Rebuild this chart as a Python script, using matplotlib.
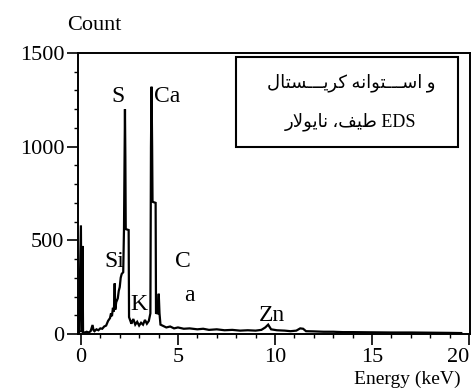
import numpy as np
import matplotlib.pyplot as plt
from matplotlib.ticker import MultipleLocator
from matplotlib.patches import Rectangle

# EDS spectrum (energy in keV, counts)
energy = [-0.10, 0.00, 0.03, 0.06, 0.08, 0.11, 0.20, 0.30, 0.40, 0.50,
          0.60, 0.65, 0.70, 0.80, 0.90, 1.00, 1.10, 1.20, 1.30, 1.40,
          1.50, 1.55, 1.60, 1.65, 1.70, 1.74, 1.77, 1.82, 1.90, 1.95,
          2.00, 2.05, 2.10, 2.18, 2.22, 2.25, 2.27, 2.29, 2.31, 2.46,
          2.48, 2.55, 2.60, 2.70, 2.80, 2.90, 3.00, 3.10, 3.20, 3.30,
          3.40, 3.50, 3.58, 3.61, 3.64, 3.67, 3.69, 3.71, 3.85, 3.87,
          3.95, 4.01, 4.05, 4.10, 4.20, 4.40, 4.60, 4.80, 5.00, 5.30,
          5.60, 6.00, 6.30, 6.60, 7.00, 7.40, 7.80, 8.20, 8.60, 9.00,
          9.30, 9.50, 9.65, 9.80, 10.10, 10.50, 10.80, 11.10, 11.30, 11.45,
          11.60, 12.00, 12.50, 13.00, 13.50, 14.00, 15.00, 16.00, 17.00, 18.00,
          19.00, 19.60]
counts = [5, 580, 10, 20, 470, 10, 8, 12, 8, 15,
          48, 20, 15, 25, 20, 30, 28, 40, 45, 70,
          85, 110, 95, 140, 120, 270, 130, 170, 190, 230,
          250, 300, 320, 330, 560, 950, 1200, 950, 560, 555,
          90, 70, 55, 80, 50, 65, 45, 60, 50, 75,
          55, 70, 110, 1000, 1320, 1000, 710, 705, 700, 112,
          110, 215, 110, 50, 45, 35, 40, 30, 35, 28,
          30, 25, 28, 22, 25, 20, 22, 18, 20, 18,
          22, 35, 50, 25, 20, 18, 15, 18, 30, 28,
          15, 14, 12, 12, 10, 10, 9, 8, 8, 7,
          6, 5]

x_ticks = [0, 5, 10, 15, 20]
x_labels = ["0", "5", "10", "15", "20"]

peak_names = ["S", "Ca", "Si", "C", "a", "K", "Zn"]
peak_x = [1.90, 4.45, 1.70, 5.24, 5.60, 2.98, 9.85]
peak_y = [1266, 1266, 385, 385, 208, 155, 101]

# box text, already shaped (presentation forms) and in visual order,
# since matplotlib does no right-to-left layout itself
box_lines = [
    "\uFEDD\uFE8E\uFE98\uFEB4\u0640\u0640\u0640\uFBFE\uFEAE\uFB90 "
    "\uFEEA\uFEE7\uFE8D\uFEEE\uFE98\u0640\u0640\u0640\uFEB3\uFE8D \uFEED",
    "\uFEAD\uFEFB\uFEEE\uFBFE\uFE8E\uFEE7 \u060C\uFED2\uFBFF\uFEC3 EDS",
]

fam = ['Liberation Serif', 'DejaVu Sans']
plt.rcParams['font.family'] = fam

fig = plt.figure(figsize=(4.73, 3.89), dpi=100)
ax = fig.add_axes([78 / 473, 55 / 389, 392 / 473, 281 / 389])

ax.plot(energy, counts, color='black', lw=1.6, solid_joinstyle='miter')

ax.set_xlim(-0.15, 20.05)
ax.set_ylim(0, 1500)

ax.set_xticks(x_ticks)
xl = ax.set_xticklabels(x_labels)
xl[-1].set_horizontalalignment('right')
ax.xaxis.set_minor_locator(MultipleLocator(1))
ax.yaxis.set_major_locator(MultipleLocator(500))
ax.yaxis.set_minor_locator(MultipleLocator(100))
ax.tick_params(axis='both', which='major', direction='out', length=8,
               width=1.2, labelsize=16, pad=2, colors='black')
ax.tick_params(axis='both', which='minor', direction='out', length=3, width=1)
for s in ax.spines.values():
    s.set_linewidth(1.4)

for name, x, y in zip(peak_names, peak_x, peak_y):
    ax.text(x, y, name, fontsize=17, ha='center', va='center')

ax.add_patch(Rectangle((0.404, 0.665), 0.566, 0.321, transform=ax.transAxes,
                       fill=False, lw=1.5, ec='black'))
ax.text(0.696, 0.893, box_lines[0], transform=ax.transAxes, fontsize=13,
        ha='center', va='center')
ax.text(0.696, 0.754, box_lines[1], transform=ax.transAxes, fontsize=13,
        ha='center', va='center')

fig.text(94 / 473, 1 - 25 / 389, "Count", fontsize=16, ha='center', va='center')
fig.text(407 / 473, 1 - 384 / 389, "Energy (keV)", fontsize=14,
         ha='center', va='baseline')

fig.savefig('out.png', dpi=100)
